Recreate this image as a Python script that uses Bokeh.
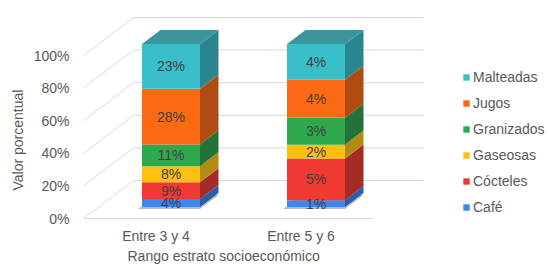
from bokeh.plotting import figure
from bokeh.models import FixedTicker, Legend, LegendItem, Range1d, Title
from bokeh.core.properties import value
from bokeh.embed import file_html
from bokeh.resources import INLINE

# ---------------- data ----------------
categories = ["Entre 3 y 4", "Entre 5 y 6"]
series = ["Café", "Cócteles", "Gaseosas", "Granizados", "Jugos", "Malteadas"]
cafe = [4.1, 0.8]
cocteles = [8.6, 4.8]
gaseosas = [8.2, 1.6]
granizados = [11.1, 3.1]
jugos = [28.4, 4.4]
malteadas = [22.8, 4.1]
y_ticks = [0, 20, 40, 60, 80, 100]
y_tick_labels = ["0%", "20%", "40%", "60%", "80%", "100%"]
x_title = "Rango estrato socioeconómico"
y_title = "Valor porcentual"

values = [cafe, cocteles, gaseosas, granizados, jugos, malteadas]

# ---------------- style ----------------
front_colors = ["#3d86f2", "#ee3a31", "#fdc010", "#30a84e", "#fb6a12", "#38bfc9"]
side_colors = ["#2a5cae", "#a52b25", "#b38a12", "#217338", "#b04c12", "#2a868e"]
top_color = "#3a959c"
grid_color = "#d9d9d9"
text_color = "#595959"
label_color = "#404040"
shadow_color = "#7f7f7f"
FONT = "Liberation Sans"
FS = "14px"

PX_X = 145.0            # px per category (front plane)
PX_Y = 1.63             # px per percent
DEPTH_DX = 50.0 / PX_X  # full depth, in data units
DEPTH_DY = 38.0 / PX_Y
F1, F2 = 0.30, 0.67     # bar front / back depth fractions
BAR_W = 0.40
SH_DX, SH_DY = 4.0 / PX_X, 2.0 / PX_Y   # floor shadow offset

W, H = 549, 264
LEFT = 83
zero_px = 218
BOTTOM = H - (zero_px + 1)
frame_w = W - LEFT
frame_h = H - BOTTOM

p = figure(width=W, height=H, output_backend="svg", toolbar_location=None,
           title=None, tools="",
           x_range=Range1d(0, frame_w / PX_X),
           y_range=Range1d(-(frame_h - zero_px) / PX_Y, zero_px / PX_Y),
           min_border_left=LEFT, min_border_right=0, min_border_top=0,
           min_border_bottom=BOTTOM)
p.outline_line_color = None
p.xgrid.visible = False
p.ygrid.visible = False
p.background_fill_color = "white"

n = len(categories)

# ---------------- 3D gridlines ----------------
gx, gy = [], []
for t in y_ticks:
    gx.append([0, DEPTH_DX, n + DEPTH_DX])
    gy.append([t, t + DEPTH_DY, t + DEPTH_DY])
gx.append([0, n])
gy.append([0, 0])
p.multi_line(gx, gy, line_color=grid_color, line_width=1)

# ---------------- bars ----------------
ox1, oy1 = F1 * DEPTH_DX, F1 * DEPTH_DY
ddx, ddy = (F2 - F1) * DEPTH_DX, (F2 - F1) * DEPTH_DY

# floor shadows
shx, shy = [], []
for i in range(n):
    c = i + 0.5 + ox1
    x0, x1 = c - BAR_W / 2 - SH_DX, c + BAR_W / 2
    y0 = oy1 - SH_DY
    shx.append([x0, x1, x1 + ddx, x0 + ddx])
    shy.append([y0, y0, y0 + ddy, y0 + ddy])
p.patches(shx, shy, fill_color=shadow_color, fill_alpha=0.55, line_color=None)

totals = [sum(v[i] for v in values) for i in range(n)]
bottoms = [0.0] * n
legend_renderers = []
lab_x, lab_y, lab_t = [], [], []
for s, vals in enumerate(values):
    l, r, b, t = [], [], [], []
    sx, sy = [], []
    for i in range(n):
        h = vals[i] / totals[i] * 100.0
        c = i + 0.5 + ox1
        x0, x1 = c - BAR_W / 2, c + BAR_W / 2
        y0, y1 = bottoms[i] + oy1, bottoms[i] + h + oy1
        l.append(x0); r.append(x1); b.append(y0); t.append(y1)
        sx.append([x1, x1 + ddx, x1 + ddx, x1])
        sy.append([y0, y0 + ddy, y1 + ddy, y1])
        lab_x.append(c); lab_y.append((y0 + y1) / 2)
        lab_t.append(f"{round(vals[i])}%")
        bottoms[i] += h
    p.patches(sx, sy, fill_color=side_colors[s], line_color=None)
    rq = p.quad(left=l, right=r, bottom=b, top=t, fill_color=front_colors[s],
                line_color=None)
    legend_renderers.append(rq)

# top faces
tx, ty = [], []
for i in range(n):
    c = i + 0.5 + ox1
    x0, x1 = c - BAR_W / 2, c + BAR_W / 2
    yt = bottoms[i] + oy1
    tx.append([x0, x1, x1 + ddx, x0 + ddx])
    ty.append([yt, yt, yt + ddy, yt + ddy])
p.patches(tx, ty, fill_color=top_color, line_color=None)

p.text(lab_x, lab_y, text=lab_t, text_align="center", text_baseline="middle",
       text_font=value(FONT), text_font_size=FS, text_color=label_color)

# ---------------- axes ----------------
ya = p.yaxis[0]
ya.ticker = FixedTicker(ticks=y_ticks)
ya.major_label_overrides = {t: lab for t, lab in zip(y_ticks, y_tick_labels)}
ya.axis_line_color = None
ya.major_tick_line_color = None
ya.minor_tick_line_color = None
ya.major_tick_out = 0
ya.major_label_standoff = 14
ya.major_label_text_font = FONT
ya.major_label_text_font_size = FS
ya.major_label_text_color = text_color

xa = p.xaxis[0]
xa.ticker = FixedTicker(ticks=[i + 0.5 for i in range(n)])
xa.major_label_overrides = {i + 0.5: c for i, c in enumerate(categories)}
xa.axis_line_color = None
xa.major_tick_line_color = None
xa.minor_tick_line_color = None
xa.major_tick_out = 0
xa.major_label_standoff = 8
xa.major_label_text_font = FONT
xa.major_label_text_font_size = FS
xa.major_label_text_color = text_color

# axis titles, positioned over the front plane as in the original
p.add_layout(Title(text=x_title, align="left", offset=44, standoff=0,
                   vertical_align="middle", text_font=FONT,
                   text_font_size=FS, text_font_style="normal",
                   text_color=text_color), "below")
p.add_layout(Title(text=y_title, align="left", offset=29, standoff=7,
                   vertical_align="middle", text_font=FONT,
                   text_font_size=FS, text_font_style="normal",
                   text_color=text_color), "left")

# ---------------- legend ----------------
items = [LegendItem(label=series[s], renderers=[legend_renderers[s]])
         for s in reversed(range(len(series)))]
legend = Legend(items=items, location=(379, 4), orientation="vertical",
                label_text_font=FONT, label_text_font_size=FS,
                label_text_color=text_color, glyph_width=8, glyph_height=8,
                label_standoff=3, spacing=9, label_height=17, padding=0,
                margin=0, border_line_alpha=0, background_fill_alpha=0)
p.add_layout(legend)

open("out.html", "w").write(file_html(p, INLINE))
